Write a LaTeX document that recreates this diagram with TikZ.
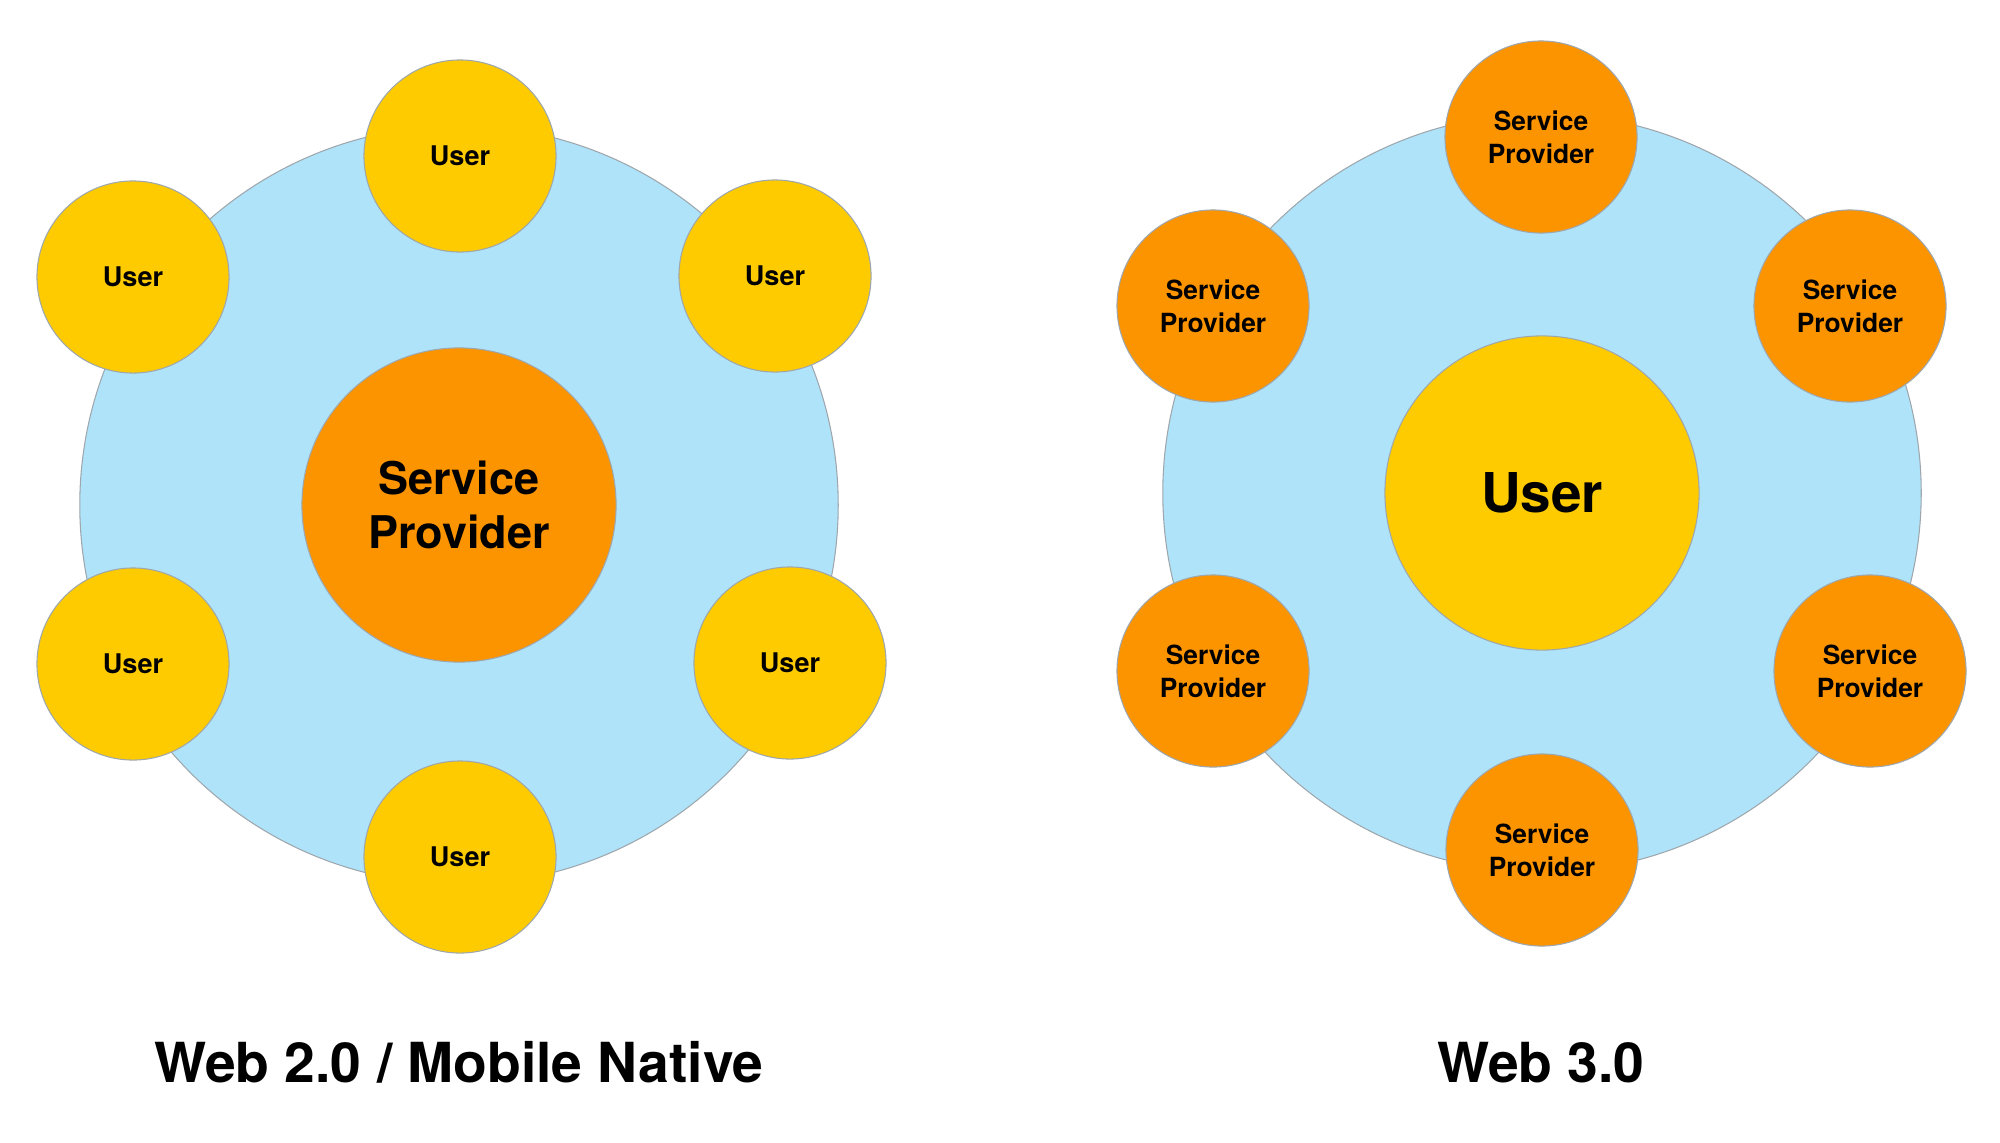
\documentclass[tikz,border=0pt]{standalone}
\usepackage{fontspec}
\setmainfont{TeX Gyre Heros}
\usepackage{tikz}
\definecolor{skyfill}{HTML}{AEE3FA}
\definecolor{userfill}{HTML}{FDCB00}
\definecolor{provfill}{HTML}{FC9400}
\definecolor{rimgray}{HTML}{9FA7AD}

\begin{document}
\begin{tikzpicture}[x=0.01cm,y=-0.01cm,
      ring/.style ={circle,draw=rimgray,line width=0.3pt,fill=skyfill,minimum size=7.58cm,inner sep=0pt},
      usr/.style  ={circle,draw=rimgray,line width=0.3pt,fill=userfill,minimum size=1.92cm,inner sep=0pt,align=center,font=\bfseries\fontsize{7.7}{9}\selectfont},
      prov/.style ={circle,draw=rimgray,line width=0.3pt,fill=provfill,minimum size=1.92cm,inner sep=0pt,align=center,font=\bfseries\fontsize{7.5}{9.4}\selectfont},
      hub/.style  ={minimum size=3.14cm},
      title/.style={anchor=base,font=\bfseries\fontsize{15.7}{18}\selectfont}]
      \useasboundingbox (0,0) rectangle (2000,1142);
      % Web 2.0 side
      \node[ring] (ringA) at (459,505) {};
      \node[prov,hub,font=\bfseries\fontsize{12.8}{15.4}\selectfont] (hubA) at (459,505) {Service\\Provider};
      \foreach \pos [count=\idx] in {{460,156},{775,276},{790,663},{460,857},{133,664},{133,277}}{
        \node[usr] (userA\idx) at (\pos) {User};}
      % Web 3.0 side
      \node[ring] (ringB) at (1542,493) {};
      \node[usr,hub,font=\bfseries\fontsize{15.6}{18}\selectfont] (hubB) at (1542,493) {User};
      \foreach \pos [count=\idx] in {{1541,137},{1850,306},{1870,671},{1542,850},{1213,671},{1213,306}}{
        \node[prov] (provB\idx) at (\pos) {Service\\Provider};}
      % Titles
      \node[title] (titleA) at (459,1082) {Web 2.0 / Mobile Native};
      \node[title] (titleB) at (1541,1082) {Web 3.0};
  \end{tikzpicture}
\end{document}
